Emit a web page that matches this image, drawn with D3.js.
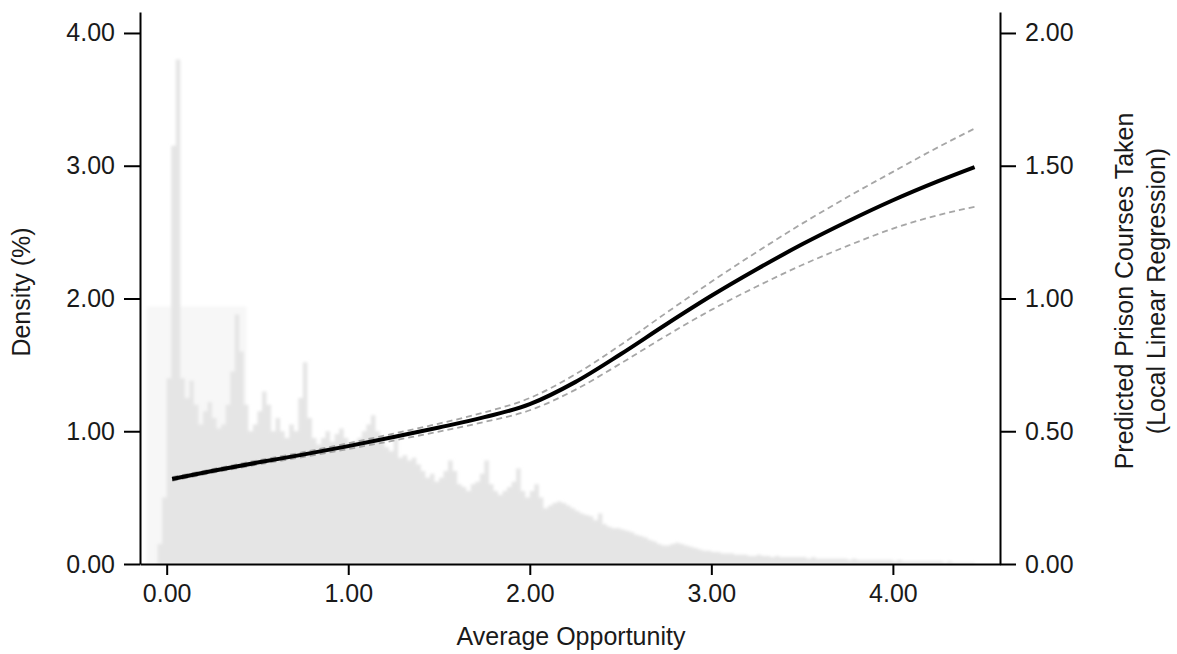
<!DOCTYPE html>
<html>
<head>
<meta charset="utf-8">
<script src="https://cdn.jsdelivr.net/npm/d3@7"></script>
<style>
  html, body { margin: 0; padding: 0; background: #fff; }
  svg { display: block; }
  text { font-family: "Liberation Sans", Arial, Helvetica, sans-serif; fill: #1a1a1a; }
</style>
</head>
<body>
<svg id="chart" width="1177" height="654"></svg>
<script>
// Histogram of average opportunity (density in %), fixed-width bins
const binStart = -0.05;
const binWidth = 0.025;
const densityPct = [
  0.15, 0.5, 1.4, 3.15, 3.8, 1.4, 1.25, 1.38, 1.2, 1.05,
  1.15, 1.22, 1.1, 1.02, 1.05, 1.2, 1.45, 1.88, 1.6, 1.2,
  1.0, 1.05, 1.15, 1.3, 1.2, 1.0, 1.1, 1.0, 0.95, 1.05,
  1.0, 1.25, 1.52, 1.1, 0.95, 0.9, 0.95, 1.0, 0.92, 0.98,
  1.02, 0.95, 0.9, 0.92, 0.95, 1.0, 1.05, 1.12, 1.0, 0.92,
  0.88, 0.85, 0.95, 0.8, 0.82, 0.78, 0.8, 0.75, 0.7, 0.65,
  0.68, 0.62, 0.65, 0.7, 0.78, 0.7, 0.6, 0.58, 0.55, 0.6,
  0.62, 0.68, 0.78, 0.6, 0.55, 0.52, 0.55, 0.58, 0.62, 0.72,
  0.55, 0.5, 0.55, 0.6, 0.5, 0.42, 0.44, 0.46, 0.47, 0.46,
  0.44, 0.42, 0.4, 0.38, 0.37, 0.36, 0.33, 0.38, 0.3, 0.28,
  0.27, 0.27, 0.26, 0.25, 0.24, 0.22, 0.21, 0.2, 0.18, 0.17,
  0.15, 0.14, 0.14, 0.15, 0.16, 0.15, 0.14, 0.13, 0.12, 0.11,
  0.1, 0.1, 0.09, 0.09, 0.08, 0.08, 0.08, 0.07, 0.07, 0.07,
  0.06, 0.06, 0.07, 0.06, 0.06, 0.05, 0.06, 0.05, 0.05, 0.05,
  0.05, 0.05, 0.05, 0.04, 0.05, 0.04, 0.04, 0.04, 0.04, 0.04,
  0.04, 0.04, 0.03, 0.04, 0.03, 0.03, 0.03, 0.03, 0.03, 0.03,
  0.03, 0.03, 0.02, 0.03, 0.02, 0.02, 0.02, 0.02, 0.02, 0.02,
  0.02, 0.02, 0.02, 0.01, 0.02, 0.01, 0.01, 0.01, 0.01, 0.01
];

// Wide, pale bin behind the low-opportunity peaks
const envelopeEdges = [-0.11, 0.44];
const envelopeDensity = [1.94];

// Local linear regression: fit and confidence bounds (prison courses)
const regX     = [0.03, 0.25, 0.5, 0.75, 1.0, 1.25, 1.5, 1.75, 2.0, 2.25, 2.5, 2.75, 3.0, 3.25, 3.5, 3.75, 4.0, 4.25, 4.45];
const regFit   = [0.320, 0.350, 0.382, 0.412, 0.444, 0.478, 0.514, 0.553, 0.602, 0.685, 0.790, 0.902, 1.010, 1.110, 1.204, 1.290, 1.370, 1.442, 1.495];
const regUpper = [0.327, 0.357, 0.390, 0.421, 0.455, 0.491, 0.529, 0.571, 0.625, 0.714, 0.825, 0.945, 1.063, 1.175, 1.282, 1.382, 1.477, 1.570, 1.640];
const regLower = [0.313, 0.343, 0.374, 0.403, 0.433, 0.465, 0.499, 0.535, 0.579, 0.656, 0.755, 0.859, 0.957, 1.045, 1.126, 1.198, 1.263, 1.314, 1.345];

// Axis ticks
const xTicks = [0, 1, 2, 3, 4];
const yLeftTicks = [0, 1, 2, 3, 4];
const yRightTicks = [0, 0.5, 1, 1.5, 2];

const svg = d3.select("#chart");

const x = d3.scaleLinear().domain([-0.147, 4.59]).range([140, 1000]);
const yL = d3.scaleLinear().domain([0, 4.158]).range([564, 12]);
const yR = d3.scaleLinear().domain([0, 2.079]).range([564, 12]);

const defs = svg.append("defs");
defs.append("filter").attr("id", "soft")
  .attr("filterUnits", "userSpaceOnUse")
  .attr("x", 120).attr("y", 0).attr("width", 900).attr("height", 580)
  .append("feGaussianBlur").attr("stdDeviation", 1.8);

// Histogram
const hist = svg.append("g").attr("filter", "url(#soft)");

hist.append("rect")
  .attr("x", x(envelopeEdges[0]))
  .attr("width", x(envelopeEdges[1]) - x(envelopeEdges[0]))
  .attr("y", yL(envelopeDensity[0]))
  .attr("height", yL(0) - yL(envelopeDensity[0]))
  .attr("fill", "#f7f7f7");

const steps = densityPct.map((d, i) => ({ x: binStart + i * binWidth, d }));
steps.push({ x: binStart + densityPct.length * binWidth, d: densityPct[densityPct.length - 1] });

hist.append("path")
  .datum(steps)
  .attr("fill", "#e5e5e5")
  .attr("d", d3.area()
    .curve(d3.curveStepAfter)
    .x(p => x(p.x))
    .y0(yL(0))
    .y1(p => yL(p.d)));

// Regression lines
const fitPts = regX.map((v, i) => [v, regFit[i]]);
const upPts = regX.map((v, i) => [v, regUpper[i]]);
const loPts = regX.map((v, i) => [v, regLower[i]]);
const line = d3.line().curve(d3.curveMonotoneX).x(p => x(p[0])).y(p => yR(p[1]));

[upPts, loPts].forEach(pts => {
  svg.append("path").datum(pts)
    .attr("fill", "none")
    .attr("stroke", "#a6a6a6")
    .attr("stroke-width", 1.8)
    .attr("stroke-dasharray", "6,4")
    .attr("d", line);
});

svg.append("path").datum(fitPts)
  .attr("fill", "none")
  .attr("stroke", "#000")
  .attr("stroke-width", 4)
  .attr("stroke-linecap", "butt")
  .attr("d", line);

// Axes
const fmt = d3.format(".2f");

function styleAxis(g) {
  g.select(".domain").attr("stroke", "#000").attr("stroke-width", 2);
  g.selectAll(".tick line").attr("stroke", "#000").attr("stroke-width", 2);
  g.selectAll(".tick text").attr("font-size", 25).attr("fill", "#1a1a1a")
    .attr("font-family", "'Liberation Sans', Arial, Helvetica, sans-serif");
}

svg.append("g")
  .attr("transform", "translate(0,564)")
  .call(d3.axisBottom(x).tickValues(xTicks).tickFormat(fmt).tickSize(11).tickSizeOuter(0).tickPadding(9))
  .call(styleAxis);

svg.append("g")
  .attr("transform", "translate(140,0)")
  .call(d3.axisLeft(yL).tickValues(yLeftTicks).tickFormat(fmt).tickSize(16).tickSizeOuter(0).tickPadding(9))
  .call(styleAxis);

svg.append("g")
  .attr("transform", "translate(1000,0)")
  .call(d3.axisRight(yR).tickValues(yRightTicks).tickFormat(fmt).tickSize(16).tickSizeOuter(0).tickPadding(9))
  .call(styleAxis);

// Axis titles
svg.append("text")
  .attr("x", 571).attr("y", 645)
  .attr("text-anchor", "middle")
  .attr("font-size", 25)
  .text("Average Opportunity");

svg.append("text")
  .attr("transform", "translate(30,292) rotate(-90)")
  .attr("text-anchor", "middle")
  .attr("font-size", 25)
  .text("Density (%)");

const rightTitle = svg.append("text")
  .attr("transform", "translate(1133,291) rotate(-90)")
  .attr("text-anchor", "middle")
  .attr("font-size", 25);
rightTitle.append("tspan").attr("x", 0).attr("dy", 0).text("Predicted Prison Courses Taken");
rightTitle.append("tspan").attr("x", 0).attr("dy", 32).text("(Local Linear Regression)");
</script>
</body>
</html>
